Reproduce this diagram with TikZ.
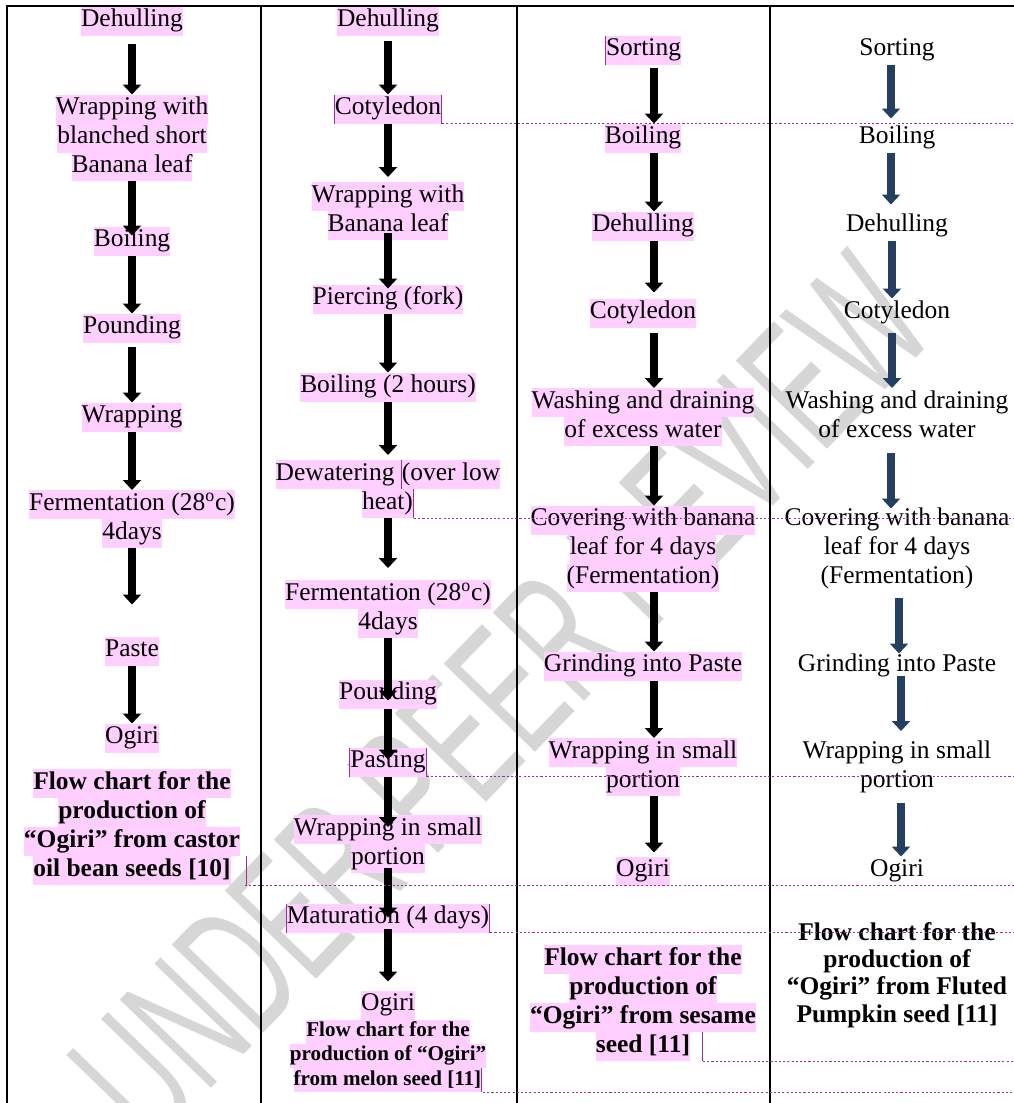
\documentclass[tikz,border=0pt]{standalone}
\usepackage{fontspec}
\setmainfont{Liberation Serif}
\newfontfamily\wmfont{Liberation Sans}
\usepackage{graphicx}
\usetikzlibrary{arrows.meta}

\definecolor{hlpink}{RGB}{255,208,255}
\definecolor{cmtpurple}{RGB}{150,50,150}
\definecolor{navy}{RGB}{36,63,96}
\definecolor{wmgray}{RGB}{214,214,214}

% highlighted line and comment bar
\newcommand\hl[1]{{\setlength\fboxsep{0pt}\colorbox{hlpink}{\strut #1}}}
\newcommand\cbar{{\color{cmtpurple}\vrule width 0.6pt height\ht\strutbox depth\dp\strutbox}}

\begin{document}
\begin{tikzpicture}[x=0.02cm, y=0.02cm,
    proc/.style={align=center, inner sep=0pt, outer sep=0pt, font=\fontsize{14.5}{16.5}\selectfont},
    capt/.style={proc, font=\fontsize{14.5}{16.5}\selectfont\bfseries},
    flow/.style={line width=0.16cm, -{Triangle[width=0.36cm,length=0.2cm]}},
    navyflow/.style={flow, color=navy},
    cmt/.style={cmtpurple, line width=0.5pt, dash pattern=on 1.2pt off 1.2pt},
    tabrule/.style={line width=0.04cm}]
    \useasboundingbox (0,0) rectangle (1014,-1103);

    % watermark
    \node[text=wmgray, rotate=46] (wm) at (501,-698)
        {\wmfont\fontsize{105}{105}\selectfont\scalebox{0.57}[1]{UNDER PEER REVIEW}};

    % table rules
    \draw[tabrule] (7,-1103) -- (7,-6) -- (1014,-6);
    \draw[tabrule] (261,-6) -- (261,-1103);
    \draw[tabrule] (517,-6) -- (517,-1103);
    \draw[line width=0.025cm] (770,-6) -- (770,-1103);

    % Place nodes: castor oil bean
    \node[proc] (d1) at (132,-21) {\hl{Dehulling}};
    \node[proc] (w1) at (132,-138) {\hl{Wrapping with}\\\hl{blanched short}\\\hl{Banana leaf}};
    \node[proc] (b1) at (132,-241) {\hl{Boiling}};
    \node[proc] (p1) at (132,-328) {\hl{Pounding}};
    \node[proc] (wr1) at (132,-417) {\hl{Wrapping}};
    \node[proc] (f1) at (132,-519) {\hl{Fermentation (28\textsuperscript{o}c)}\\\hl{4days}};
    \node[proc] (pa1) at (132,-651) {\hl{Paste}};
    \node[proc] (o1) at (132,-738) {\hl{Ogiri}};
    \node[capt] (cap1) at (132,-827) {\hl{Flow chart for the}\\\hl{production of}\\\hl{“Ogiri” from castor}\\\hl{oil bean seeds [10]}\rlap{\hspace{8.5pt}\cbar}};

    % melon seed
    \node[proc] (d2) at (388,-21) {\hl{Dehulling}};
    \node[proc] (c2) at (388,-109) {\hl{\cbar Cotyledon\cbar}};
    \node[proc] (w2) at (388,-211) {\hl{Wrapping with}\\\hl{Banana leaf}};
    \node[proc] (pi2) at (388,-299) {\hl{Piercing (fork)}};
    \node[proc] (b2) at (388,-387) {\hl{Boiling (2 hours)}};
    \node[proc] (de2) at (388,-489) {\hl{Dewatering \cbar(over low}\\\hl{heat)\cbar}};
    \node[proc] (f2) at (388,-609) {\hl{Fermentation (28\textsuperscript{o}c)}\\\hl{4days}};
    \node[proc] (po2) at (388,-694) {\hl{Pounding}};
    \node[proc] (pt2) at (388,-762) {\hl{\cbar Pasting\cbar}};
    \node[proc] (wr2) at (388,-844) {\hl{Wrapping in small}\\\hl{portion}};
    \node[proc] (m2) at (388,-918) {\hl{\cbar Maturation (4 days)\cbar}};
    \node[proc] (o2) at (388,-1005) {\hl{Ogiri}};
    \node[capt, font=\fontsize{12}{13.8}\selectfont\bfseries] (cap2) at (388,-1056) {\hl{Flow chart for the}\\\hl{production of “Ogiri”}\\\hl{from melon seed [11]\cbar}};

    % sesame seed
    \node[proc] (s3) at (643,-50) {\hl{\cbar Sorting}};
    \node[proc] (b3) at (643,-138) {\hl{Boiling}};
    \node[proc] (d3) at (643,-226) {\hl{Dehulling}};
    \node[proc] (c3) at (643,-313) {\hl{Cotyledon}};
    \node[proc] (wa3) at (643,-417) {\hl{Washing and draining}\\\hl{of excess water}};
    \node[proc] (cv3) at (643,-549) {\hl{Covering with banana}\\\hl{leaf for 4 days}\\\hl{(Fermentation)}};
    \node[proc] (g3) at (643,-666) {\hl{Grinding into Paste}};
    \node[proc] (wr3) at (643,-767) {\hl{Wrapping in small}\\\hl{portion}};
    \node[proc] (o3) at (643,-871) {\hl{Ogiri}};
    \node[capt] (cap3) at (643,-1003) {\hl{Flow chart for the}\\\hl{production of}\\\hl{“Ogiri” from sesame}\\\hl{seed [11]}\rlap{\hspace{7pt}\cbar}};

    % fluted pumpkin seed
    \node[proc] (s4) at (897,-50) {\strut Sorting};
    \node[proc] (b4) at (897,-138) {\strut Boiling};
    \node[proc] (d4) at (897,-226) {\strut Dehulling};
    \node[proc] (c4) at (897,-313) {\strut Cotyledon};
    \node[proc] (wa4) at (897,-417) {\strut Washing and draining\\\strut of excess water};
    \node[proc] (cv4) at (897,-549) {\strut Covering with banana\\\strut leaf for 4 days\\\strut (Fermentation)};
    \node[proc] (g4) at (897,-666) {\strut Grinding into Paste};
    \node[proc] (wr4) at (897,-767) {\strut Wrapping in small\\\strut portion};
    \node[proc] (o4) at (897,-871) {\strut Ogiri};
    \node[capt, font=\fontsize{14.5}{15.6}\selectfont\bfseries] (cap4) at (897,-975) {Flow chart for the\\production of\\“Ogiri” from Fluted\\Pumpkin seed [11]};

    % Draw edges
    \draw[flow, shorten <=0.18cm] (d1) -- (w1);
    \draw[flow, shorten >=-0.18cm] (w1) -- (b1);
    \draw[flow] (b1) -- (p1);
    \draw[flow, shorten <=0.08cm] (p1) -- (wr1);
    \draw[flow] (wr1) -- (f1);
    \draw[flow, shorten >=0.64cm] (f1) -- (pa1);
    \draw[flow] (pa1) -- (o1);

    \draw[flow, shorten <=0.12cm] (d2) -- (c2);
    \draw[flow, shorten >=0.1cm] (c2) -- (w2);
    \draw[flow, shorten <=-0.14cm, shorten >=-0.08cm] (w2) -- (pi2);
    \draw[flow] (pi2) -- (b2);
    \draw[flow, shorten >=0.1cm] (b2) -- (de2);
    \draw[flow, shorten >=0.24cm] (de2) -- (f2);
    \draw[flow, shorten >=-0.42cm] (f2) -- (po2);
    \draw[flow, shorten >=-0.24cm] (po2) -- (pt2);
    \draw[flow, shorten >=-0.24cm] (pt2) -- (wr2);
    \draw[flow, shorten <=-0.1cm, shorten >=-0.28cm] (wr2) -- (m2);
    \draw[flow, shorten <=-0.08cm, shorten >=0.18cm] (m2) -- (o2);

    \draw[flow, shorten <=0.08cm] ([xshift=0.22cm]s3.south) -- ([xshift=0.22cm]b3.north);
    \draw[flow] ([xshift=0.22cm]b3.south) -- ([xshift=0.22cm]d3.north);
    \draw[flow, shorten >=0.12cm] ([xshift=0.22cm]d3.south) -- ([xshift=0.22cm]c3.north);
    \draw[flow, shorten <=0.1cm] ([xshift=0.22cm]c3.south) -- ([xshift=0.22cm]wa3.north);
    \draw[flow] ([xshift=0.22cm]wa3.south) -- ([xshift=0.22cm]cv3.north);
    \draw[flow] ([xshift=0.22cm]cv3.south) -- ([xshift=0.22cm]g3.north);
    \draw[flow] ([xshift=0.22cm]g3.south) -- ([xshift=0.22cm]wr3.north);
    \draw[flow, shorten >=0.08cm] ([xshift=0.22cm]wr3.south) -- ([xshift=0.22cm]o3.north);

    \draw[navyflow, shorten >=0.1cm] ([xshift=-0.12cm]s4.south) -- ([xshift=-0.12cm]b4.north);
    \draw[navyflow, shorten >=0.14cm] ([xshift=-0.12cm]b4.south) -- ([xshift=-0.12cm]d4.north);
    \draw[navyflow] ([xshift=-0.1cm]d4.south) -- ([xshift=-0.1cm]c4.north);
    \draw[navyflow, shorten <=0.1cm] ([xshift=-0.1cm]c4.south) -- ([xshift=-0.1cm]wa4.north);
    \draw[navyflow, shorten <=0.14cm, shorten >=-0.06cm] ([xshift=-0.12cm]wa4.south) -- ([xshift=-0.12cm]cv4.north);
    \draw[navyflow, shorten <=0.12cm, shorten >=-0.04cm] ([xshift=0.04cm]cv4.south) -- ([xshift=0.04cm]g4.north);
    \draw[navyflow, shorten <=-0.1cm, shorten >=0.14cm] ([xshift=0.08cm]g4.south) -- ([xshift=0.08cm]wr4.north);
    \draw[navyflow, shorten <=0.14cm] ([xshift=0.08cm]wr4.south) -- ([xshift=0.08cm]o4.north);

    % comment marks
    \coordinate (R) at (1014,0);
    \draw[cmt] (c2.south east) -- (c2.south east -| R);
    \draw[cmt] ([xshift=0.52cm]de2.south) -- (de2.south -| R);
    \draw[cmt] (pt2.south east) -- (pt2.south east -| R);
    \draw[cmt] ([xshift=2.26cm]cap1.south) -- (cap1.south -| R);
    \draw[cmt] (m2.south east) -- (m2.south east -| R);
    \draw[cmt] ([xshift=1.9cm]cap2.south) -- (cap2.south -| R);
    \draw[cmt] ([xshift=1.2cm]cap3.south) -- (cap3.south -| R);
\end{tikzpicture}
\end{document}
